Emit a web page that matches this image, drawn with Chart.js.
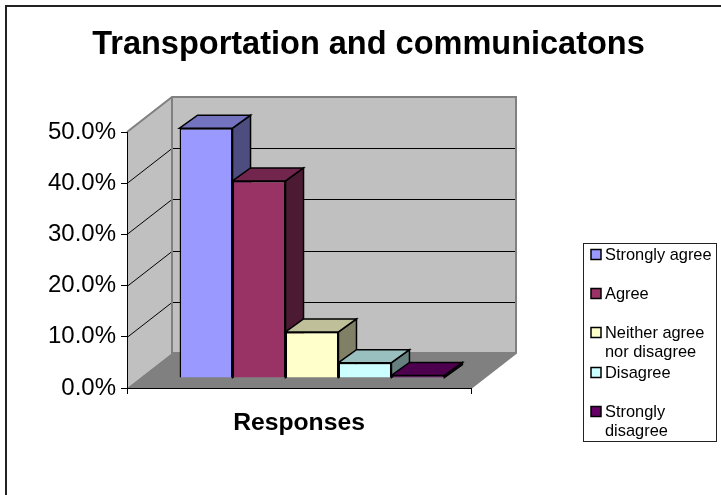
<!DOCTYPE html>
<html><head><meta charset="utf-8">
<style>html,body{margin:0;padding:0;background:#fff}#w{width:721px;height:495px;position:relative}</style>
<script src="https://cdn.jsdelivr.net/npm/chart.js@4/dist/chart.umd.min.js"></script>
</head><body><div id="w"><canvas id="c" width="721" height="495"></canvas></div>
<script>
const chartTitle = 'Transportation and communicatons';
const categories = ['Responses'];
const seriesNames = ['Strongly agree','Agree','Neither agree nor disagree','Disagree','Strongly disagree'];
const legendLines = [['Strongly agree'],['Agree'],['Neither agree','nor disagree'],['Disagree'],['Strongly','disagree']];
const seriesValues = [48.8, 38.5, 9, 3, 0.5];
const seriesColors = ['#9999FF','#993366','#FFFFCC','#CCFFFF','#660066'];
const topColors = ['#7373BF','#73264D','#BFBF99','#99BFBF','#4D004D'];
const sideColors = ['#4D4D80','#4D1A33','#808066','#668080','#330033'];
const legendY = [255,294,333,373,412];
const font = '"Liberation Sans", Arial, sans-serif';
const wallD = {x:45,y:-35}, barShift = {x:13,y:-10}, barD = {x:18,y:-13};

function poly(ctx, pts, fill, stroke, lw){
  ctx.beginPath(); pts.forEach((p,i)=> i?ctx.lineTo(p[0],p[1]):ctx.moveTo(p[0],p[1])); ctx.closePath();
  if(fill){ctx.fillStyle=fill;ctx.fill();}
  if(stroke){ctx.strokeStyle=stroke;ctx.lineWidth=lw;ctx.lineJoin='miter';ctx.stroke();}
}
const scene = {
  id:'scene',
  afterLayout(chart){ chart.titleBlock.left = 16; chart.titleBlock.right = 721; },
  beforeDraw(chart){
    const ctx=chart.ctx, {left:l,right:r,top:t,bottom:b}=chart.chartArea, y=chart.scales.y;
    const dx=wallD.x, dy=wallD.y;
    ctx.save();
    ctx.fillStyle='#fff';ctx.fillRect(0,0,721,495);
    ctx.strokeStyle='#222';ctx.lineWidth=2;
    ctx.beginPath();ctx.moveTo(721,6);ctx.lineTo(6,6);ctx.lineTo(6,495);ctx.stroke();
    poly(ctx,[[l,t],[l+dx,t+dy],[l+dx,b+dy],[l,b]],'#C0C0C0');
    poly(ctx,[[l+dx,t+dy],[r+dx,t+dy],[r+dx,b+dy],[l+dx,b+dy]],'#C0C0C0');
    poly(ctx,[[l,b],[l+dx,b+dy],[r+dx,b+dy],[r,b]],'#808080');
    ctx.strokeStyle='#000';ctx.lineWidth=1;
    y.ticks.forEach(tk=>{
      if(tk.value===0||tk.value===50) return;
      const py=Math.round(y.getPixelForValue(tk.value))+0.5;
      ctx.beginPath();ctx.moveTo(l,py);ctx.lineTo(l+dx,py+dy);ctx.lineTo(r+dx,py+dy);ctx.stroke();
    });
    ctx.strokeStyle='#808080';ctx.lineWidth=2;
    ctx.beginPath();ctx.moveTo(l,t);ctx.lineTo(l+dx,t+dy);ctx.lineTo(r+dx,t+dy);ctx.lineTo(r+dx,b+dy);ctx.lineTo(r,b);ctx.stroke();
    ctx.beginPath();ctx.moveTo(l+dx,t+dy);ctx.lineTo(l+dx,b+dy);ctx.lineTo(r+dx,b+dy);ctx.stroke();
    ctx.restore();
  },
  beforeDatasetsDraw(chart){
    const ctx=chart.ctx, ax=barD.x, ay=barD.y;
    ctx.save();
    ctx.translate(barShift.x,barShift.y);
    chart.data.datasets.forEach((ds,i)=>{
      const el=chart.getDatasetMeta(i).data[0];
      const hw=el.width/2, xl=el.x-hw, xr=el.x+hw, yt=el.y, yb=el.base;
      poly(ctx,[[xr,yt],[xr+ax,yt+ay],[xr+ax,yb+ay],[xr,yb]],sideColors[i],'#000',1.5);
      poly(ctx,[[xl,yt],[xl+ax,yt+ay],[xr+ax,yt+ay],[xr,yt]],topColors[i],'#000',1.5);
    });
  },
  afterDatasetsDraw(chart){ chart.ctx.restore(); },
  afterDraw(chart){
    const ctx=chart.ctx,{left:l,right:r,bottom:b}=chart.chartArea;
    ctx.save();
    ctx.strokeStyle='#000';ctx.lineWidth=1;
    [l,r].forEach(x=>{ctx.beginPath();ctx.moveTo(Math.round(x)+0.5,b);ctx.lineTo(Math.round(x)+0.5,b+6);ctx.stroke();});
    // legend
    ctx.fillStyle='#fff';ctx.fillRect(583.5,243.5,133,198);
    ctx.strokeStyle='#222';ctx.lineWidth=1;ctx.strokeRect(583.5,243.5,133,198);
    ctx.font='16.4px '+font;ctx.textBaseline='middle';ctx.textAlign='left';
    legendLines.forEach((lines,i)=>{
      const y0=legendY[i];
      ctx.fillStyle=seriesColors[i];ctx.fillRect(591,y0-5.5,10,10);
      ctx.strokeStyle='#000';ctx.lineWidth=1.5;ctx.strokeRect(591,y0-5.5,10,10);
      ctx.fillStyle='#000';
      lines.forEach((t,j)=>ctx.fillText(t,605,y0+j*19.5));
    });
    ctx.restore();
  }
};
new Chart(document.getElementById('c'),{
  type:'bar',
  data:{labels:categories,datasets:seriesNames.map((n,i)=>({
    label:n,data:[seriesValues[i]],backgroundColor:seriesColors[i],borderColor:'#000',borderWidth:1.5,clip:false,
    barPercentage:1,categoryPercentage:0.77
  }))},
  options:{
    responsive:false,animation:false,
    layout:{padding:{left:30,right:250,top:0,bottom:40}},
    plugins:{
      legend:{display:false},tooltip:{enabled:false},
      title:{display:true,text:chartTitle,color:'#000',font:{family:font,size:32.5,weight:'bold',lineHeight:1.2},padding:{top:26,bottom:67}}
    },
    scales:{
      x:{type:'category',grid:{display:false},border:{display:true,color:'#000',width:1},
        ticks:{color:'#000',font:{family:font,size:24.7,weight:'bold'},padding:12},
        afterFit(s){s.height=67;}},
      y:{min:0,max:50,grid:{drawOnChartArea:false,drawTicks:true,tickLength:6,tickWidth:1,color:'#000'},border:{display:true,color:'#000',width:1},
        ticks:{stepSize:10,color:'#000',font:{family:font,size:24},padding:5,callback:v=>v.toFixed(1)+'%'},
        afterFit(s){s.width=97;}}
    }
  },
  plugins:[scene]
});
</script></body></html>
